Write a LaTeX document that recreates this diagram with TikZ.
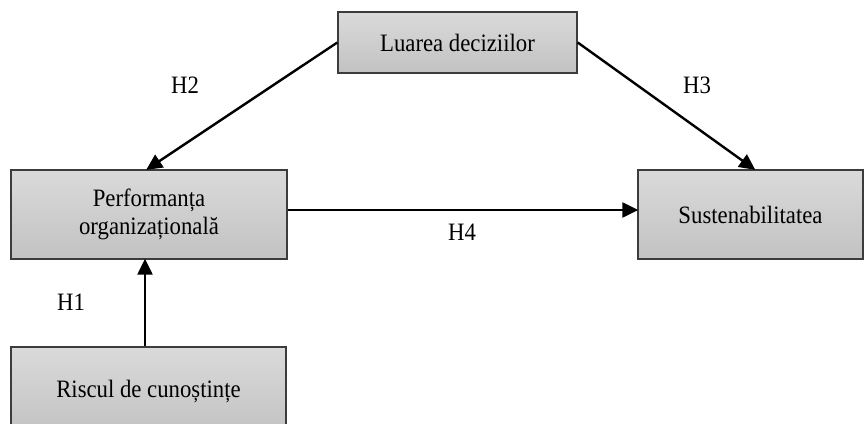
\documentclass[tikz,border=0pt]{standalone}
\usepackage{fontspec}
\setmainfont{Liberation Serif}[FakeStretch=0.91]
\usetikzlibrary{arrows.meta,calc}
\definecolor{boxtop}{RGB}{218,218,218}
\definecolor{boxbot}{RGB}{194,194,194}
\definecolor{boxline}{RGB}{60,60,60}
\tikzset{
  varbox/.style={draw=boxline, line width=1.4pt, top color=boxtop, bottom color=boxbot,
    inner sep=0pt, align=center, font=\fontsize{25}{28.5}\selectfont},
  arr/.style={line width=2.4pt, -{Triangle[length=16pt,width=15pt]}, shorten >=-1pt},
  hlab/.style={font=\fontsize{25}{28}\selectfont, inner sep=0pt}
}
\begin{document}
\begin{tikzpicture}[x=1pt,y=-1pt]
\useasboundingbox (0,0) rectangle (864,423);
\clip (0,0) rectangle (864,423);
\fill[white] (0,0) rectangle (864,423);
\node[varbox, minimum width=239pt, minimum height=61pt] (dec) at (457.5,42.5) {Luarea deciziilor};
\node[varbox, minimum width=276pt, minimum height=89pt] (perf) at (149,214.5) {Performanța\\organizațională};
\node[varbox, minimum width=225pt, minimum height=89pt] (sust) at (750.5,214.5) {Sustenabilitatea};
\node[varbox, minimum width=275pt, minimum height=88pt] (risc) at (148.5,391) {Riscul de cunoștințe};
\draw[arr] (dec.west) -- ([xshift=-2pt]perf.north);
\draw[arr] (dec.east) -- ([xshift=4pt]sust.north);
\draw[arr] ([yshift=4.5pt]perf.east) -- ([yshift=4.5pt]sust.west);
\draw[arr] ([xshift=-3.5pt]risc.north) -- ([xshift=-4pt]perf.south);
\node[hlab] (h2) at (185,85) {H2};
\node[hlab] (h3) at (697,85) {H3};
\node[hlab] (h4) at (462,232) {H4};
\node[hlab] (h1) at (71,302) {H1};
\end{tikzpicture}
\end{document}
